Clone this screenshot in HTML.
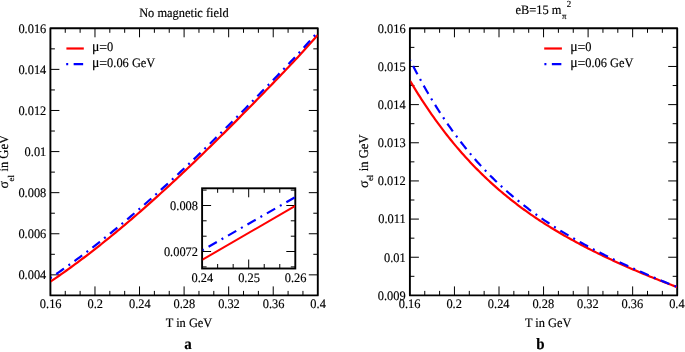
<!DOCTYPE html>
<html lang="en"><head><meta charset="utf-8"><title>Electrical conductivity</title>
<style>html,body{margin:0;padding:0;background:#fff}body{width:685px;height:352px;overflow:hidden}text{stroke:#000;stroke-width:.16px}</style></head>
<body>
<svg width="685" height="352" viewBox="0 0 685 352" style="display:block;font-family:'Liberation Serif','Times New Roman',serif;text-rendering:geometricPrecision" fill="#000">
<rect width="685" height="352" fill="#fff"/>
<defs>
<clipPath id="cl"><rect x="51.0" y="28.3" width="266.60" height="267.10"/></clipPath>
<clipPath id="cr"><rect x="410.5" y="28.3" width="266.50" height="267.10"/></clipPath>
<clipPath id="ci"><rect x="202.7" y="188.3" width="92.40" height="80.20"/></clipPath>
</defs>
<rect x="50.4" y="28.3" width="267.40" height="267.10" fill="none" stroke="#000" stroke-width="1.9" stroke-linejoin="round"/>
<path d="M94.97 295.4v-9.0M94.97 28.3v9.0M139.53 295.4v-9.0M139.53 28.3v9.0M184.10 295.4v-9.0M184.10 28.3v9.0M228.67 295.4v-9.0M228.67 28.3v9.0M273.23 295.4v-9.0M273.23 28.3v9.0M65.26 295.4v-4.5M65.26 28.3v4.5M80.11 295.4v-4.5M80.11 28.3v4.5M109.82 295.4v-4.5M109.82 28.3v4.5M124.68 295.4v-4.5M124.68 28.3v4.5M154.39 295.4v-4.5M154.39 28.3v4.5M169.24 295.4v-4.5M169.24 28.3v4.5M198.96 295.4v-4.5M198.96 28.3v4.5M213.81 295.4v-4.5M213.81 28.3v4.5M243.52 295.4v-4.5M243.52 28.3v4.5M258.38 295.4v-4.5M258.38 28.3v4.5M288.09 295.4v-4.5M288.09 28.3v4.5M302.94 295.4v-4.5M302.94 28.3v4.5" stroke="#000" stroke-width="1.0" fill="none"/>
<path d="M50.4 69.39h9.0M317.8 69.39h-9.0M50.4 110.48h9.0M317.8 110.48h-9.0M50.4 151.58h9.0M317.8 151.58h-9.0M50.4 192.67h9.0M317.8 192.67h-9.0M50.4 233.76h9.0M317.8 233.76h-9.0M50.4 274.85h9.0M317.8 274.85h-9.0M50.4 48.85h4.5M317.8 48.85h-4.5M50.4 89.94h4.5M317.8 89.94h-4.5M50.4 131.03h4.5M317.8 131.03h-4.5M50.4 172.12h4.5M317.8 172.12h-4.5M50.4 213.22h4.5M317.8 213.22h-4.5M50.4 254.31h4.5M317.8 254.31h-4.5" stroke="#000" stroke-width="1.0" fill="none"/>
<g clip-path="url(#cl)" fill="none" stroke-width="2.2">
<path d="M50.40 281.67L52.65 280.15L54.89 278.61L57.14 277.06L59.39 275.50L61.64 273.92L63.88 272.34L66.13 270.74L68.38 269.12L70.62 267.50L72.87 265.86L75.12 264.21L77.36 262.55L79.61 260.88L81.86 259.19L84.11 257.50L86.35 255.79L88.60 254.07L90.85 252.34L93.09 250.59L95.34 248.84L97.59 247.08L99.84 245.30L102.08 243.51L104.33 241.72L106.58 239.91L108.82 238.09L111.07 236.26L113.32 234.42L115.56 232.57L117.81 230.71L120.06 228.84L122.31 226.96L124.55 225.07L126.80 223.17L129.05 221.26L131.29 219.34L133.54 217.41L135.79 215.47L138.04 213.53L140.28 211.57L142.53 209.60L144.78 207.63L147.02 205.65L149.27 203.65L151.52 201.65L153.76 199.64L156.01 197.62L158.26 195.60L160.51 193.56L162.75 191.52L165.00 189.47L167.25 187.41L169.49 185.34L171.74 183.27L173.99 181.18L176.24 179.09L178.48 176.99L180.73 174.89L182.98 172.78L185.22 170.65L187.47 168.53L189.72 166.39L191.96 164.25L194.21 162.10L196.46 159.95L198.71 157.79L200.95 155.62L203.20 153.44L205.45 151.26L207.69 149.08L209.94 146.88L212.19 144.68L214.44 142.48L216.68 140.27L218.93 138.05L221.18 135.83L223.42 133.60L225.67 131.37L227.92 129.13L230.16 126.88L232.41 124.63L234.66 122.38L236.91 120.12L239.15 117.86L241.40 115.59L243.65 113.31L245.89 111.03L248.14 108.75L250.39 106.46L252.64 104.17L254.88 101.88L257.13 99.58L259.38 97.27L261.62 94.97L263.87 92.66L266.12 90.34L268.36 88.02L270.61 85.70L272.86 83.37L275.11 81.04L277.35 78.71L279.60 76.38L281.85 74.04L284.09 71.70L286.34 69.34L288.59 66.98L290.84 64.60L293.08 62.20L295.33 59.80L297.58 57.38L299.82 54.95L302.07 52.50L304.32 50.04L306.56 47.57L308.81 45.09L311.06 42.60L313.31 40.09L315.55 37.58L317.80 35.05" stroke="#f00"/>
<path d="M50.40 277.97L52.65 276.46L54.89 274.93L57.14 273.39L59.39 271.83L61.64 270.27L63.88 268.69L66.13 267.09L68.38 265.49L70.62 263.87L72.87 262.24L75.12 260.60L77.36 258.95L79.61 257.28L81.86 255.60L84.11 253.92L86.35 252.22L88.60 250.50L90.85 248.78L93.09 247.04L95.34 245.30L97.59 243.54L99.84 241.77L102.08 239.99L104.33 238.20L106.58 236.40L108.82 234.59L111.07 232.77L113.32 230.94L115.56 229.10L117.81 227.24L120.06 225.38L122.31 223.51L124.55 221.62L126.80 219.73L129.05 217.83L131.29 215.92L133.54 213.99L135.79 212.06L138.04 210.12L140.28 208.17L142.53 206.21L144.78 204.24L147.02 202.27L149.27 200.28L151.52 198.29L153.76 196.28L156.01 194.27L158.26 192.25L160.51 190.22L162.75 188.18L165.00 186.14L167.25 184.09L169.49 182.03L171.74 179.96L173.99 177.88L176.24 175.79L178.48 173.70L180.73 171.60L182.98 169.50L185.22 167.38L187.47 165.26L189.72 163.13L191.96 161.00L194.21 158.85L196.46 156.70L198.71 154.55L200.95 152.39L203.20 150.22L205.45 148.04L207.69 145.86L209.94 143.67L212.19 141.48L214.44 139.28L216.68 137.07L218.93 134.86L221.18 132.64L223.42 130.42L225.67 128.19L227.92 125.96L230.16 123.72L232.41 121.47L234.66 119.23L236.91 116.97L239.15 114.71L241.40 112.45L243.65 110.18L245.89 107.90L248.14 105.63L250.39 103.34L252.64 101.06L254.88 98.77L257.13 96.47L259.38 94.17L261.62 91.87L263.87 89.56L266.12 87.25L268.36 84.94L270.61 82.62L272.86 80.30L275.11 77.97L277.35 75.65L279.60 73.31L281.85 70.98L284.09 68.64L286.34 66.29L288.59 63.93L290.84 61.55L293.08 59.16L295.33 56.76L297.58 54.35L299.82 51.92L302.07 49.48L304.32 47.02L306.56 44.56L308.81 42.08L311.06 39.59L313.31 37.09L315.55 34.57L317.80 32.05" stroke="#00f" stroke-dasharray="2 5.45 9.5 5.45" stroke-dashoffset="0.4"/>
</g>
<text transform="translate(46.3 32.5) scale(1.0 1.05)" font-size="12.4" text-anchor="end">0.016</text>
<text transform="translate(46.3 73.59) scale(1.0 1.05)" font-size="12.4" text-anchor="end">0.014</text>
<text transform="translate(46.3 114.68) scale(1.0 1.05)" font-size="12.4" text-anchor="end">0.012</text>
<text transform="translate(46.3 155.78) scale(1.0 1.05)" font-size="12.4" text-anchor="end">0.01</text>
<text transform="translate(46.3 196.87) scale(1.0 1.05)" font-size="12.4" text-anchor="end">0.008</text>
<text transform="translate(46.3 237.96) scale(1.0 1.05)" font-size="12.4" text-anchor="end">0.006</text>
<text transform="translate(46.3 279.05) scale(1.0 1.05)" font-size="12.4" text-anchor="end">0.004</text>
<text transform="translate(50.7 308.4) scale(1.0 1.05)" font-size="12.4" text-anchor="middle">0.16</text>
<text transform="translate(95.27 308.4) scale(1.0 1.05)" font-size="12.4" text-anchor="middle">0.2</text>
<text transform="translate(139.83 308.4) scale(1.0 1.05)" font-size="12.4" text-anchor="middle">0.24</text>
<text transform="translate(184.4 308.4) scale(1.0 1.05)" font-size="12.4" text-anchor="middle">0.28</text>
<text transform="translate(228.97 308.4) scale(1.0 1.05)" font-size="12.4" text-anchor="middle">0.32</text>
<text transform="translate(273.53 308.4) scale(1.0 1.05)" font-size="12.4" text-anchor="middle">0.36</text>
<text transform="translate(318.1 308.4) scale(1.0 1.05)" font-size="12.4" text-anchor="middle">0.4</text>
<text transform="translate(183.9 16.5) scale(1.0 1.05)" font-size="12.4" text-anchor="middle">No magnetic field</text>
<text transform="translate(189 326.5) scale(1.0 1.05)" font-size="12.4" text-anchor="middle">T in GeV</text>
<text transform="translate(188 348.5) scale(1.0 1.05)" font-size="15" text-anchor="middle" font-weight="bold">a</text>
<g transform="translate(8.2 188.5) rotate(-90)"><text font-size="13.8">σ</text><text x="7" y="5.6" font-size="8.8">el</text><text transform="translate(16.9 0) scale(1.015 1.08)" font-size="12.4">in GeV</text></g>
<path d="M66.4 48.5H83.8" stroke="#f00" stroke-width="2.2"/>
<path d="M66.2 64.2H83.6" stroke="#00f" stroke-width="2.2" stroke-dasharray="2 5.45 9.5 5.45"/>
<text transform="translate(92 51.4) scale(1.0 1.05)" font-size="12.4" text-anchor="start"><tspan font-size="13.8">μ</tspan><tspan font-size="14" dx="-0.1" dy="0.7">=</tspan><tspan dx="-0.1" dy="-0.7">0</tspan></text>
<text transform="translate(92 67.0) scale(1.0 1.05)" font-size="12.4" text-anchor="start"><tspan font-size="13.8">μ</tspan><tspan font-size="14" dx="-0.1" dy="0.7">=</tspan><tspan dx="-0.1" dy="-0.7">0.06 GeV</tspan></text>
<rect x="202.1" y="188.3" width="93.20" height="80.20" fill="#fff" stroke="#000" stroke-width="1.9"/>
<path d="M248.70 268.5v-9.0M248.70 188.3v9.0M217.63 268.5v-4.5M217.63 188.3v4.5M233.17 268.5v-4.5M233.17 188.3v4.5M264.23 268.5v-4.5M264.23 188.3v4.5M279.77 268.5v-4.5M279.77 188.3v4.5" stroke="#000" stroke-width="1.0" fill="none"/>
<path d="M202.1 205.50h9.0M295.3 205.50h-9.0M202.1 251.50h9.0M295.3 251.50h-9.0M202.1 190.10h4.5M295.3 190.10h-4.5M202.1 220.80h4.5M295.3 220.80h-4.5M202.1 236.20h4.5M295.3 236.20h-4.5M202.1 266.90h4.5M295.3 266.90h-4.5" stroke="#000" stroke-width="1.0" fill="none"/>
<g clip-path="url(#ci)" fill="none">
<path d="M202.1 259.9L295.3 205.9" stroke="#f00" stroke-width="2"/>
<path d="M202.1 250.4L295.3 197.1" stroke="#00f" stroke-width="2.2" stroke-dasharray="2 5.45 9.5 5.45"/>
</g>
<text transform="translate(198 209.6) scale(1.0 1.05)" font-size="12.4" text-anchor="end">0.008</text>
<text transform="translate(198 255.6) scale(1.0 1.05)" font-size="12.4" text-anchor="end">0.0072</text>
<text transform="translate(202.4 282) scale(1.0 1.05)" font-size="12.4" text-anchor="middle">0.24</text>
<text transform="translate(249.0 282) scale(1.0 1.05)" font-size="12.4" text-anchor="middle">0.25</text>
<text transform="translate(295.6 282) scale(1.0 1.05)" font-size="12.4" text-anchor="middle">0.26</text>
<rect x="409.9" y="28.3" width="267.30" height="267.10" fill="none" stroke="#000" stroke-width="1.9" stroke-linejoin="round"/>
<path d="M454.45 295.4v-9.0M454.45 28.3v9.0M499.00 295.4v-9.0M499.00 28.3v9.0M543.55 295.4v-9.0M543.55 28.3v9.0M588.10 295.4v-9.0M588.10 28.3v9.0M632.65 295.4v-9.0M632.65 28.3v9.0M424.75 295.4v-4.5M424.75 28.3v4.5M439.60 295.4v-4.5M439.60 28.3v4.5M469.30 295.4v-4.5M469.30 28.3v4.5M484.15 295.4v-4.5M484.15 28.3v4.5M513.85 295.4v-4.5M513.85 28.3v4.5M528.70 295.4v-4.5M528.70 28.3v4.5M558.40 295.4v-4.5M558.40 28.3v4.5M573.25 295.4v-4.5M573.25 28.3v4.5M602.95 295.4v-4.5M602.95 28.3v4.5M617.80 295.4v-4.5M617.80 28.3v4.5M647.50 295.4v-4.5M647.50 28.3v4.5M662.35 295.4v-4.5M662.35 28.3v4.5" stroke="#000" stroke-width="1.0" fill="none"/>
<path d="M409.9 66.46h9.0M677.2 66.46h-9.0M409.9 104.61h9.0M677.2 104.61h-9.0M409.9 142.77h9.0M677.2 142.77h-9.0M409.9 180.93h9.0M677.2 180.93h-9.0M409.9 219.09h9.0M677.2 219.09h-9.0M409.9 257.24h9.0M677.2 257.24h-9.0M409.9 47.38h4.5M677.2 47.38h-4.5M409.9 85.54h4.5M677.2 85.54h-4.5M409.9 123.69h4.5M677.2 123.69h-4.5M409.9 161.85h4.5M677.2 161.85h-4.5M409.9 200.01h4.5M677.2 200.01h-4.5M409.9 238.16h4.5M677.2 238.16h-4.5M409.9 276.32h4.5M677.2 276.32h-4.5" stroke="#000" stroke-width="1.0" fill="none"/>
<g clip-path="url(#cr)" fill="none" stroke-width="2.2">
<path d="M409.90 80.52L411.58 83.34L413.26 86.14L414.94 88.89L416.62 91.61L418.31 94.30L419.99 96.95L421.67 99.57L423.35 102.15L425.03 104.70L426.71 107.22L428.39 109.70L430.07 112.16L431.75 114.58L433.44 116.97L435.12 119.32L436.80 121.65L438.48 123.95L440.16 126.22L441.84 128.46L443.52 130.67L445.20 132.85L446.88 135.00L448.57 137.13L450.25 139.23L451.93 141.30L453.61 143.35L455.29 145.37L456.97 147.36L458.65 149.33L460.33 151.27L462.02 153.19L463.70 155.08L465.38 156.95L467.06 158.80L468.74 160.62L470.42 162.42L472.10 164.20L473.78 165.95L475.46 167.68L477.15 169.39L478.83 171.08L480.51 172.75L482.19 174.40L483.87 176.03L485.55 177.63L487.23 179.22L488.91 180.79L490.59 182.34L492.28 183.87L493.96 185.38L495.64 186.87L497.32 188.35L499.00 189.81L500.68 191.25L502.36 192.67L504.04 194.08L505.72 195.47L507.41 196.84L509.09 198.20L510.77 199.55L512.45 200.87L514.13 202.18L515.81 203.48L517.49 204.76L519.17 206.03L520.85 207.29L522.54 208.53L524.22 209.75L525.90 210.97L527.58 212.17L529.26 213.35L530.94 214.53L532.62 215.69L534.30 216.84L535.98 217.98L537.67 219.11L539.35 220.22L541.03 221.32L542.71 222.42L544.39 223.50L546.07 224.57L547.75 225.63L549.43 226.68L551.12 227.72L552.80 228.75L554.48 229.77L556.16 230.78L557.84 231.78L559.52 232.77L561.20 233.76L562.88 234.73L564.56 235.70L566.25 236.66L567.93 237.60L569.61 238.55L571.29 239.48L572.97 240.40L574.65 241.32L576.33 242.23L578.01 243.14L579.69 244.03L581.38 244.92L583.06 245.80L584.74 246.68L586.42 247.55L588.10 248.41L589.78 249.26L591.46 250.11L593.14 250.96L594.82 251.79L596.51 252.62L598.19 253.45L599.87 254.27L601.55 255.08L603.23 255.89L604.91 256.70L606.59 257.49L608.27 258.29L609.95 259.07L611.64 259.86L613.32 260.64L615.00 261.41L616.68 262.18L618.36 262.94L620.04 263.70L621.72 264.46L623.40 265.21L625.08 265.95L626.77 266.69L628.45 267.43L630.13 268.16L631.81 268.89L633.49 269.62L635.17 270.34L636.85 271.06L638.53 271.77L640.22 272.48L641.90 273.18L643.58 273.88L645.26 274.58L646.94 275.27L648.62 275.96L650.30 276.65L651.98 277.33L653.66 278.01L655.35 278.68L657.03 279.35L658.71 280.02L660.39 280.68L662.07 281.34L663.75 282.00L665.43 282.65L667.11 283.30L668.79 283.94L670.48 284.58L672.16 285.22L673.84 285.85L675.52 286.48L677.20 287.11" stroke="#f00"/>
<path d="M409.90 59.69L411.58 63.02L413.26 66.30L414.94 69.54L416.62 72.73L418.31 75.87L419.99 78.97L421.67 82.03L423.35 85.04L425.03 88.01L426.71 90.93L428.39 93.82L430.07 96.66L431.75 99.46L433.44 102.22L435.12 104.94L436.80 107.62L438.48 110.27L440.16 112.87L441.84 115.44L443.52 117.97L445.20 120.47L446.88 122.93L448.57 125.35L450.25 127.74L451.93 130.10L453.61 132.42L455.29 134.71L456.97 136.96L458.65 139.18L460.33 141.38L462.02 143.54L463.70 145.67L465.38 147.77L467.06 149.84L468.74 151.88L470.42 153.89L472.10 155.87L473.78 157.83L475.46 159.75L477.15 161.66L478.83 163.53L480.51 165.38L482.19 167.20L483.87 169.00L485.55 170.77L487.23 172.52L488.91 174.25L490.59 175.95L492.28 177.63L493.96 179.28L495.64 180.92L497.32 182.53L499.00 184.12L500.68 185.69L502.36 187.24L504.04 188.77L505.72 190.28L507.41 191.76L509.09 193.23L510.77 194.69L512.45 196.12L514.13 197.53L515.81 198.93L517.49 200.31L519.17 201.67L520.85 203.02L522.54 204.35L524.22 205.66L525.90 206.96L527.58 208.24L529.26 209.51L530.94 210.76L532.62 212.00L534.30 213.23L535.98 214.44L537.67 215.63L539.35 216.82L541.03 217.99L542.71 219.14L544.39 220.29L546.07 221.42L547.75 222.54L549.43 223.65L551.12 224.75L552.80 225.84L554.48 226.91L556.16 227.98L557.84 229.03L559.52 230.07L561.20 231.11L562.88 232.13L564.56 233.15L566.25 234.15L567.93 235.15L569.61 236.14L571.29 237.12L572.97 238.09L574.65 239.05L576.33 240.00L578.01 240.95L579.69 241.88L581.38 242.81L583.06 243.74L584.74 244.65L586.42 245.56L588.10 246.46L589.78 247.36L591.46 248.24L593.14 249.12L594.82 250.00L596.51 250.87L598.19 251.73L599.87 252.58L601.55 253.43L603.23 254.28L604.91 255.12L606.59 255.95L608.27 256.78L609.95 257.60L611.64 258.41L613.32 259.22L615.00 260.03L616.68 260.83L618.36 261.63L620.04 262.42L621.72 263.20L623.40 263.98L625.08 264.76L626.77 265.54L628.45 266.31L630.13 267.07L631.81 267.83L633.49 268.59L635.17 269.35L636.85 270.10L638.53 270.85L640.22 271.59L641.90 272.33L643.58 273.07L645.26 273.80L646.94 274.53L648.62 275.25L650.30 275.97L651.98 276.69L653.66 277.41L655.35 278.12L657.03 278.82L658.71 279.52L660.39 280.22L662.07 280.92L663.75 281.61L665.43 282.29L667.11 282.97L668.79 283.65L670.48 284.32L672.16 284.99L673.84 285.66L675.52 286.32L677.20 286.96" stroke="#00f" stroke-dasharray="2 5.45 9.5 5.45" stroke-dashoffset="0.5"/>
</g>
<text transform="translate(405.7 32.6) scale(1.0 1.05)" font-size="12.4" text-anchor="end">0.016</text>
<text transform="translate(405.7 70.76) scale(1.0 1.05)" font-size="12.4" text-anchor="end">0.015</text>
<text transform="translate(405.7 108.91) scale(1.0 1.05)" font-size="12.4" text-anchor="end">0.014</text>
<text transform="translate(405.7 147.07) scale(1.0 1.05)" font-size="12.4" text-anchor="end">0.013</text>
<text transform="translate(405.7 185.23) scale(1.0 1.05)" font-size="12.4" text-anchor="end">0.012</text>
<text transform="translate(405.7 223.39) scale(1.0 1.05)" font-size="12.4" text-anchor="end">0.011</text>
<text transform="translate(405.7 261.54) scale(1.0 1.05)" font-size="12.4" text-anchor="end">0.01</text>
<text transform="translate(405.7 299.7) scale(1.0 1.05)" font-size="12.4" text-anchor="end">0.009</text>
<text transform="translate(409.6 308.4) scale(1.0 1.05)" font-size="12.4" text-anchor="middle">0.16</text>
<text transform="translate(454.15 308.4) scale(1.0 1.05)" font-size="12.4" text-anchor="middle">0.2</text>
<text transform="translate(498.7 308.4) scale(1.0 1.05)" font-size="12.4" text-anchor="middle">0.24</text>
<text transform="translate(543.25 308.4) scale(1.0 1.05)" font-size="12.4" text-anchor="middle">0.28</text>
<text transform="translate(587.8 308.4) scale(1.0 1.05)" font-size="12.4" text-anchor="middle">0.32</text>
<text transform="translate(632.35 308.4) scale(1.0 1.05)" font-size="12.4" text-anchor="middle">0.36</text>
<text transform="translate(676.9 308.4) scale(1.0 1.05)" font-size="12.4" text-anchor="middle">0.4</text>
<text transform="translate(515.6 14.1) scale(1.0 1.05)" font-size="12.4">eB=15 m<tspan font-size="8.8" dx="0.6" dy="4.4">π</tspan><tspan font-size="8.8" dx="0.2" dy="-11">2</tspan></text>
<text transform="translate(548.2 326.5) scale(1.0 1.05)" font-size="12.4" text-anchor="middle">T in GeV</text>
<text transform="translate(540.5 348.5) scale(1.0 1.05)" font-size="15" text-anchor="middle" font-weight="bold">b</text>
<g transform="translate(367.6 188.1) rotate(-90)"><text font-size="13.8">σ</text><text x="7" y="5.6" font-size="8.8">el</text><text transform="translate(16.9 0) scale(1.015 1.08)" font-size="12.4">in GeV</text></g>
<path d="M544.2 48.5H561.9" stroke="#f00" stroke-width="2.2"/>
<path d="M544.4 64.2H561.9" stroke="#00f" stroke-width="2.2" stroke-dasharray="2 5.45 9.5 5.45"/>
<text transform="translate(570.2 51.4) scale(1.0 1.05)" font-size="12.4" text-anchor="start"><tspan font-size="13.8">μ</tspan><tspan font-size="14" dx="-0.1" dy="0.7">=</tspan><tspan dx="-0.1" dy="-0.7">0</tspan></text>
<text transform="translate(570.2 67.0) scale(1.0 1.05)" font-size="12.4" text-anchor="start"><tspan font-size="13.8">μ</tspan><tspan font-size="14" dx="-0.1" dy="0.7">=</tspan><tspan dx="-0.1" dy="-0.7">0.06 GeV</tspan></text>
</svg>
</body></html>
